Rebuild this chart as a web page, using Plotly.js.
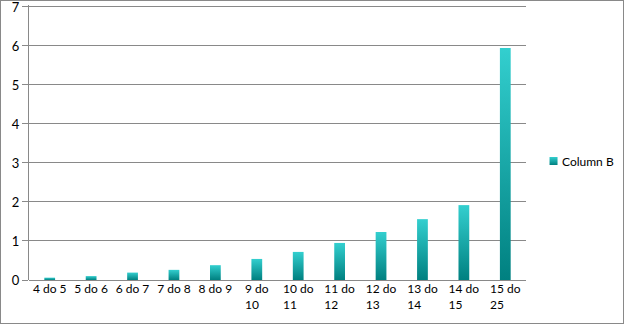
<!DOCTYPE html>
<html>
<head>
<meta charset="utf-8">
<script src="https://cdn.plot.ly/plotly-3.0.1.min.js"></script>
<style>
html,body{margin:0;padding:0;background:#fff;}
#frame{position:absolute;left:0;top:0;width:624px;height:324px;box-sizing:border-box;border:1px solid #898989;}
#chart{position:absolute;left:0;top:0;width:624px;height:324px;}
</style>
</head>
<body>
<div id="chart"></div>
<div id="frame"></div>
<script>
const categories = ["4 do 5","5 do 6","6 do 7","7 do 8","8 do 9","9 do<br>10","10 do<br>11","11 do<br>12","12 do<br>13","13 do<br>14","14 do<br>15","15 do<br>25"];
const columnB = [0.06,0.10,0.19,0.26,0.38,0.54,0.72,0.95,1.23,1.56,1.92,5.95];
const yTicks = [0,1,2,3,4,5,6,7];
const seriesName = "Column B";

const trace = {
  type: "bar",
  x: categories,
  y: columnB,
  name: seriesName,
  showlegend: true,
  marker: {color: "#1aa8a8", line: {width: 0}},
  hoverinfo: "none"
};

const layout = {
  width: 624, height: 324,
  margin: {l: 29, r: 94, t: 5, b: 44, pad: 0},
  paper_bgcolor: "#ffffff",
  plot_bgcolor: "#ffffff",
  font: {family: "Lato, 'Open Sans', sans-serif", size: 12, color: "#000000"},
  bargap: 0.74,
  showlegend: true,
  legend: {x: (526-29)/501, xanchor: "left", y: 119/275, yanchor: "middle", font: {size: 12, color: "#000"}, bgcolor: "rgba(0,0,0,0)"},
  xaxis: {
    type: "category",
    showgrid: false,
    showline: false,
    ticks: "",
    tickfont: {size: 12},
    fixedrange: true,
    automargin: false
  },
  yaxis: {
    range: [0, 7.05],
    tickvals: yTicks,
    showgrid: true,
    gridcolor: "#898989",
    gridwidth: 1,
    zeroline: true,
    zerolinecolor: "#898989",
    zerolinewidth: 1,
    showline: true,
    linecolor: "#898989",
    linewidth: 1,
    ticks: "outside",
    ticklen: 6,
    tickcolor: "#898989",
    tickfont: {size: 13},
    ticklabeloverflow: "allow",
    fixedrange: true,
    automargin: false
  }
};

Plotly.newPlot("chart", [trace], layout, {staticPlot: true, displayModeBar: false}).then(function(gd){
  const svgNS = "http://www.w3.org/2000/svg";
  const svg = gd.querySelector(".main-svg");
  let defs = svg.querySelector("defs");
  if (!defs) { defs = document.createElementNS(svgNS, "defs"); svg.insertBefore(defs, svg.firstChild); }
  const grad = document.createElementNS(svgNS, "linearGradient");
  grad.setAttribute("id", "tealgrad");
  grad.setAttribute("x1", "0"); grad.setAttribute("y1", "0");
  grad.setAttribute("x2", "0"); grad.setAttribute("y2", "1");
  [["0%","#33cfcf"],["100%","#008080"]].forEach(function(s){
    const st = document.createElementNS(svgNS, "stop");
    st.setAttribute("offset", s[0]); st.setAttribute("stop-color", s[1]);
    grad.appendChild(st);
  });
  defs.appendChild(grad);
  gd.querySelectorAll(".bars .point path").forEach(function(p){ p.style.fill = "url(#tealgrad)"; });
  gd.querySelectorAll(".legendpoints path").forEach(function(p){
    p.style.fill = "url(#tealgrad)";
    p.setAttribute("d", "M15.5,4H7.5V-4H15.5Z");
  });
  // left-align wrapped category labels like the original
  gd.querySelectorAll(".xtick text").forEach(function(t){
    const lines = t.querySelectorAll("tspan.line");
    if (lines.length < 2) return;
    let w = 0;
    lines.forEach(function(l){ w = Math.max(w, l.getComputedTextLength()); });
    const x0 = parseFloat(t.getAttribute("x") || "0");
    t.setAttribute("text-anchor", "start");
    lines.forEach(function(l){ l.setAttribute("x", x0 - w/2); });
  });
});
</script>
</body>
</html>
